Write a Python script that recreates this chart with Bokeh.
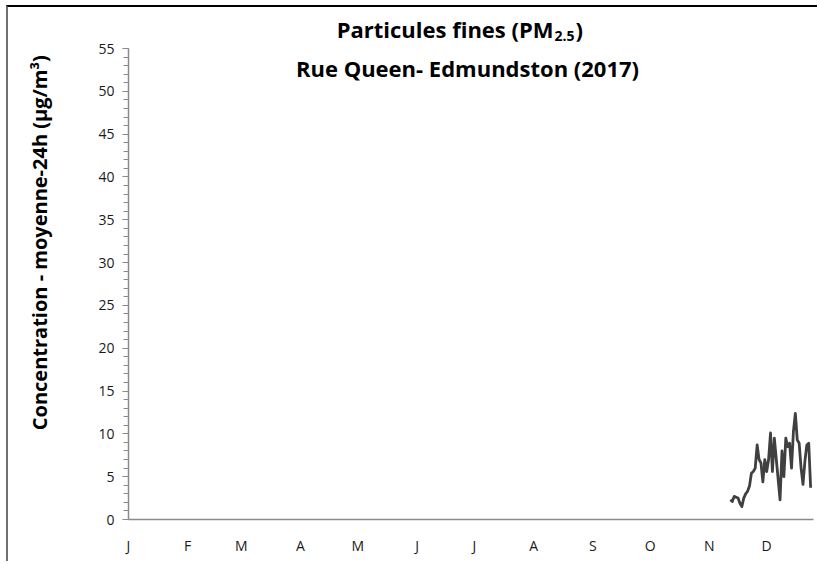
from bokeh.plotting import figure
from bokeh.models import FixedTicker, Label, Range1d
from bokeh.embed import file_html
from bokeh.resources import INLINE

# ---- data ----
month_ticks = [0, 31, 59, 90, 120, 151, 181, 212, 243, 273, 304, 334]
month_labels = ["J", "F", "M", "A", "M", "J", "J", "A", "S", "O", "N", "D"]
y_ticks = [0, 5, 10, 15, 20, 25, 30, 35, 40, 45, 50, 55]

first_day = 315
pm25 = [2.3, 2.1, 2.7, 2.6, 2.5, 1.9, 1.5, 2.5, 3.0, 3.3,
        3.9, 5.4, 5.6, 6.0, 8.7, 7.0, 6.6, 4.4, 7.0, 5.6,
        7.0, 10.1, 5.6, 9.5, 7.1, 4.7, 2.3, 8.0, 5.0, 9.5,
        8.5, 8.9, 6.0, 10.3, 12.4, 9.3, 8.9, 6.0, 4.1, 6.8,
        8.7, 8.9, 3.7]
days = list(range(first_day, first_day + len(pm25)))

title1 = "Particules fines (PM"
title1_sub = "2.5"
title1_end = ")"
title2 = "Rue Queen- Edmundston (2017)"
ylabel = "Concentration - moyenne-24h (µg/m³)"

FONT = "Open Sans"

XMAX = 358.5
YAX = 55
# frame spans from canvas top (y=7) to y=519, axis drawn only 0..55 (y=48..519)
YTOP = YAX * (519 - 7) / (519 - 48)

p = figure(width=811, height=556, output_backend="svg", toolbar_location=None,
           x_range=Range1d(0, XMAX), y_range=Range1d(0, YTOP),
           min_border_left=120, min_border_top=0, min_border_right=6,
           min_border_bottom=44)
p.styles = {"margin-left": "6px", "margin-top": "5px",
            "border-top": "2px solid #000000", "border-left": "2px solid #707070"}
p.outline_line_color = None
p.xgrid.visible = False
p.ygrid.visible = False
p.background_fill_color = "white"
p.border_fill_color = "white"

p.line(days, pm25, line_color="#404040", line_width=2.8, line_join="round")

# x axis
xa = p.xaxis[0]
xa.ticker = FixedTicker(ticks=month_ticks)
xa.major_label_overrides = {t: l for t, l in zip(month_ticks, month_labels)}
xa.major_tick_out = 0
xa.major_tick_in = 0
xa.minor_tick_out = 0
xa.minor_tick_in = 0
xa.axis_line_color = "#8a8a8a"
xa.axis_line_width = 1.5
xa.major_label_text_font = FONT
xa.major_label_text_font_size = "14px"
xa.major_label_text_color = "#1a1a1a"
xa.major_label_standoff = 16

# y axis
ya = p.yaxis[0]
ya.bounds = (0, YAX)
ya.ticker = FixedTicker(ticks=y_ticks, minor_ticks=list(range(0, 56)))
ya.major_tick_out = 6
ya.major_tick_in = 0
ya.minor_tick_out = 5
ya.minor_tick_in = 0
ya.major_tick_line_color = "#8a8a8a"
ya.minor_tick_line_color = "#8a8a8a"
ya.axis_line_color = "#8a8a8a"
ya.axis_line_width = 1.5
ya.major_label_text_font = FONT
ya.major_label_text_font_size = "14px"
ya.major_label_text_color = "#1a1a1a"
ya.major_label_standoff = 8
# leading no-break spaces shift the centred label upwards, as in the original
ya.axis_label = "\u00a0" * 8 + ylabel
ya.axis_label_text_font = FONT
ya.axis_label_text_font_style = "bold"
ya.axis_label_text_font_size = "20px"
ya.axis_label_text_color = "#000000"
ya.axis_label_standoff = 42

# pixel helpers for title placement (frame: x 128..813, y 7..519)
def px_x(px):
    return (px - 128) / (813 - 128) * XMAX

def px_y(py):
    return (519 - py) / (519 - 48) * YAX

# title (inside the extended frame, above the 55 tick)
p.add_layout(Label(x=px_x(553), y=px_y(28), text=title1, text_align="right",
                   text_baseline="alphabetic", text_font=FONT, text_font_style="bold",
                   text_font_size="22px", text_color="#000000"))
p.add_layout(Label(x=px_x(554), y=px_y(35), text=title1_sub, text_align="left",
                   text_baseline="alphabetic", text_font=FONT, text_font_style="bold",
                   text_font_size="14px", text_color="#000000"))
p.add_layout(Label(x=px_x(575), y=px_y(28), text=title1_end, text_align="left",
                   text_baseline="alphabetic", text_font=FONT, text_font_style="bold",
                   text_font_size="22px", text_color="#000000"))
p.add_layout(Label(x=px_x(467), y=px_y(67), text=title2, text_align="center",
                   text_baseline="alphabetic", text_font=FONT, text_font_style="bold",
                   text_font_size="22px", text_color="#000000"))

open("out.html", "w").write(file_html(p, INLINE))
